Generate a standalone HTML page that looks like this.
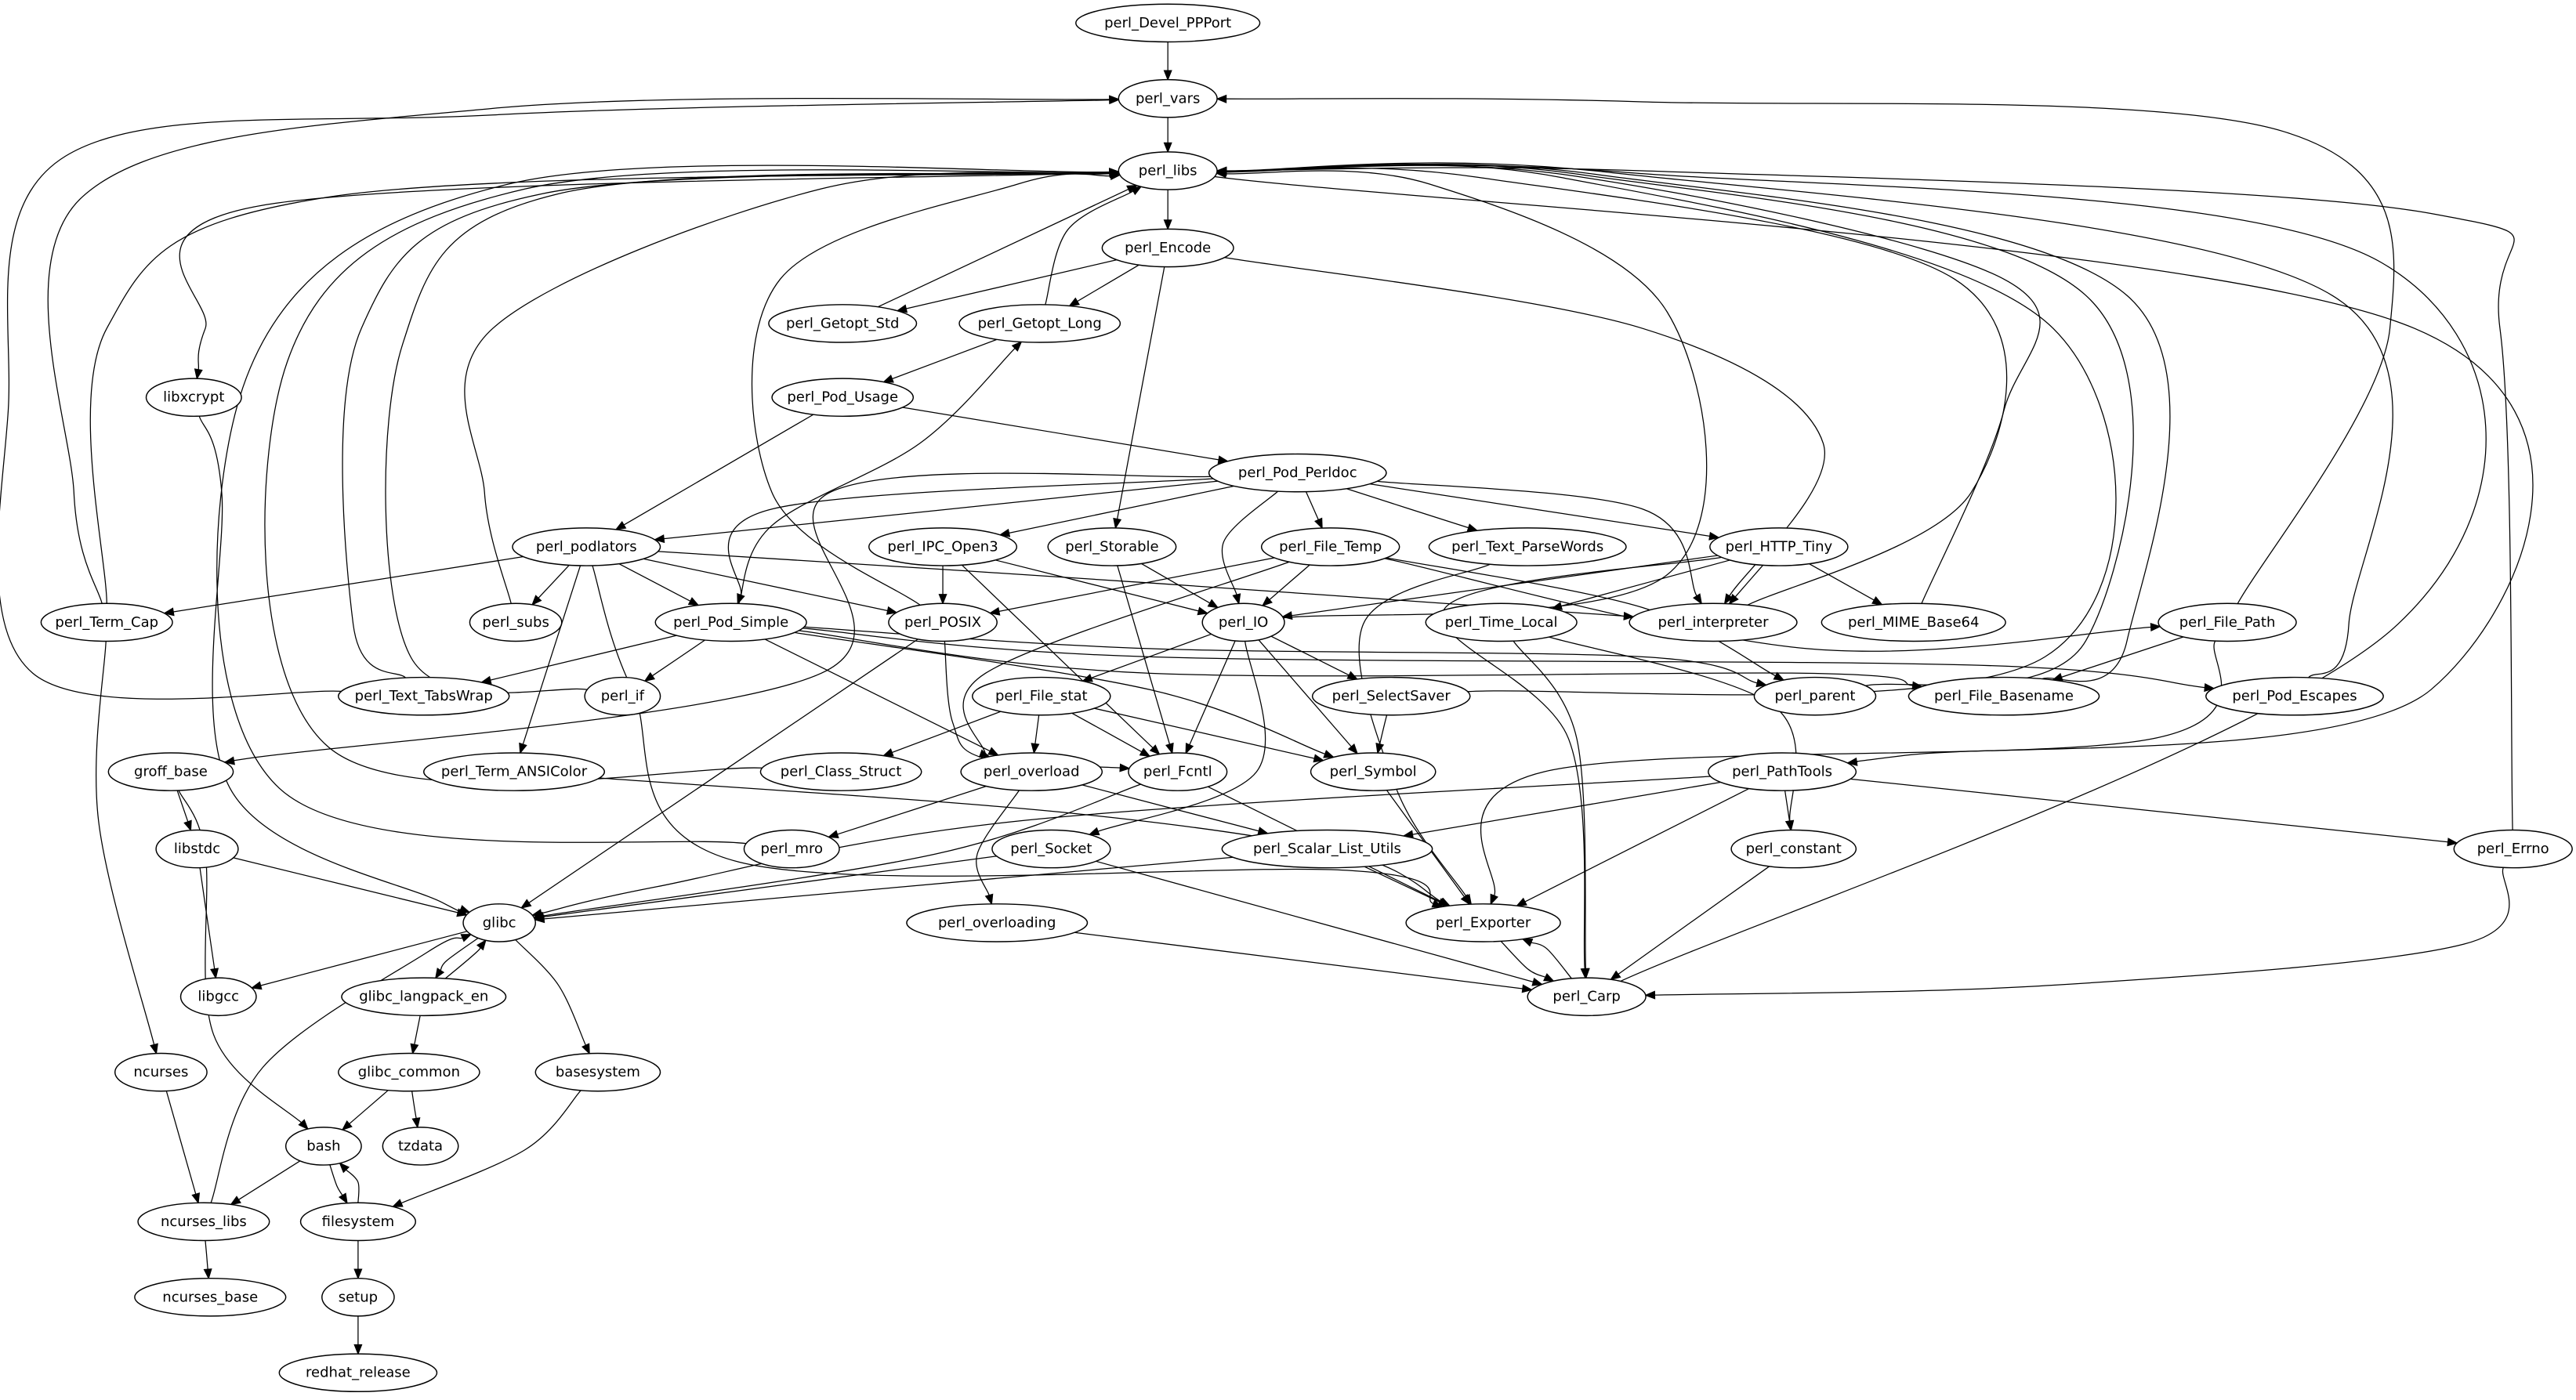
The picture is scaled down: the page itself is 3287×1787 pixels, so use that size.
<!DOCTYPE html>
<html><head><meta charset="utf-8"><style>
html,body{margin:0;padding:0;background:#fff;}
svg{display:block;}
text{font-family:"DejaVu Sans","Liberation Sans",sans-serif;font-size:8.6px;text-anchor:middle;dominant-baseline:central;fill:#000;}
ellipse{fill:#fff;stroke:#000;stroke-width:0.7;}
</style></head><body>
<svg id="g" width="3287" height="1787" viewBox="0 0 1568.3 852.6" xmlns="http://www.w3.org/2000/svg">
<g id="edges" fill="none" stroke="#000" stroke-width="0.6"></g>
<g id="nodes">
<ellipse cx="711" cy="14" rx="56" ry="11.5"/><text x="711" y="14">perl_Devel_PPPort</text>
<ellipse cx="711" cy="60" rx="30" ry="11.5"/><text x="711" y="60">perl_vars</text>
<ellipse cx="711" cy="104" rx="30" ry="11.5"/><text x="711" y="104">perl_libs</text>
<ellipse cx="711" cy="151" rx="40" ry="11.5"/><text x="711" y="151">perl_Encode</text>
<ellipse cx="513" cy="197" rx="45" ry="11.5"/><text x="513" y="197">perl_Getopt_Std</text>
<ellipse cx="633" cy="197" rx="49" ry="11.5"/><text x="633" y="197">perl_Getopt_Long</text>
<ellipse cx="118" cy="242" rx="29" ry="11.5"/><text x="118" y="242">libxcrypt</text>
<ellipse cx="513" cy="242" rx="43" ry="11.5"/><text x="513" y="242">perl_Pod_Usage</text>
<ellipse cx="790" cy="288" rx="54" ry="11.5"/><text x="790" y="288">perl_Pod_Perldoc</text>
<ellipse cx="357" cy="333" rx="45" ry="11.5"/><text x="357" y="333">perl_podlators</text>
<ellipse cx="574" cy="333" rx="45" ry="11.5"/><text x="574" y="333">perl_IPC_Open3</text>
<ellipse cx="677" cy="333" rx="39" ry="11.5"/><text x="677" y="333">perl_Storable</text>
<ellipse cx="810" cy="333" rx="42" ry="11.5"/><text x="810" y="333">perl_File_Temp</text>
<ellipse cx="930" cy="333" rx="60" ry="11.5"/><text x="930" y="333">perl_Text_ParseWords</text>
<ellipse cx="1083" cy="333" rx="42" ry="11.5"/><text x="1083" y="333">perl_HTTP_Tiny</text>
<ellipse cx="65" cy="379" rx="40" ry="11.5"/><text x="65" y="379">perl_Term_Cap</text>
<ellipse cx="314" cy="379" rx="28" ry="11.5"/><text x="314" y="379">perl_subs</text>
<ellipse cx="445" cy="379" rx="46" ry="11.5"/><text x="445" y="379">perl_Pod_Simple</text>
<ellipse cx="574" cy="379" rx="33" ry="11.5"/><text x="574" y="379">perl_POSIX</text>
<ellipse cx="757" cy="379" rx="25" ry="11.5"/><text x="757" y="379">perl_IO</text>
<ellipse cx="914" cy="379" rx="46" ry="11.5"/><text x="914" y="379">perl_Time_Local</text>
<ellipse cx="1043" cy="379" rx="51" ry="11.5"/><text x="1043" y="379">perl_interpreter</text>
<ellipse cx="1165" cy="379" rx="56" ry="11.5"/><text x="1165" y="379">perl_MIME_Base64</text>
<ellipse cx="1356" cy="379" rx="42" ry="11.5"/><text x="1356" y="379">perl_File_Path</text>
<ellipse cx="258" cy="424" rx="52" ry="11.5"/><text x="258" y="424">perl_Text_TabsWrap</text>
<ellipse cx="379" cy="424" rx="23" ry="11.5"/><text x="379" y="424">perl_if</text>
<ellipse cx="634" cy="424" rx="42" ry="11.5"/><text x="634" y="424">perl_File_stat</text>
<ellipse cx="847" cy="424" rx="48" ry="11.5"/><text x="847" y="424">perl_SelectSaver</text>
<ellipse cx="1105" cy="424" rx="37" ry="11.5"/><text x="1105" y="424">perl_parent</text>
<ellipse cx="1220" cy="424" rx="58" ry="11.5"/><text x="1220" y="424">perl_File_Basename</text>
<ellipse cx="1397" cy="424" rx="54" ry="11.5"/><text x="1397" y="424">perl_Pod_Escapes</text>
<ellipse cx="104" cy="470" rx="38" ry="11.5"/><text x="104" y="470">groff_base</text>
<ellipse cx="313" cy="470" rx="55" ry="11.5"/><text x="313" y="470">perl_Term_ANSIColor</text>
<ellipse cx="512" cy="470" rx="49" ry="11.5"/><text x="512" y="470">perl_Class_Struct</text>
<ellipse cx="628" cy="470" rx="43" ry="11.5"/><text x="628" y="470">perl_overload</text>
<ellipse cx="717" cy="470" rx="30" ry="11.5"/><text x="717" y="470">perl_Fcntl</text>
<ellipse cx="836" cy="470" rx="38" ry="11.5"/><text x="836" y="470">perl_Symbol</text>
<ellipse cx="1085" cy="470" rx="45" ry="11.5"/><text x="1085" y="470">perl_PathTools</text>
<ellipse cx="120" cy="517" rx="25" ry="11.5"/><text x="120" y="517">libstdc</text>
<ellipse cx="482" cy="517" rx="29" ry="11.5"/><text x="482" y="517">perl_mro</text>
<ellipse cx="640" cy="517" rx="36" ry="11.5"/><text x="640" y="517">perl_Socket</text>
<ellipse cx="808" cy="517" rx="64" ry="11.5"/><text x="808" y="517">perl_Scalar_List_Utils</text>
<ellipse cx="1092" cy="517" rx="38" ry="11.5"/><text x="1092" y="517">perl_constant</text>
<ellipse cx="1530" cy="517" rx="36" ry="11.5"/><text x="1530" y="517">perl_Errno</text>
<ellipse cx="304" cy="562" rx="22" ry="11.5"/><text x="304" y="562">glibc</text>
<ellipse cx="903" cy="562" rx="47" ry="11.5"/><text x="903" y="562">perl_Exporter</text>
<ellipse cx="607" cy="562" rx="55" ry="11.5"/><text x="607" y="562">perl_overloading</text>
<ellipse cx="133" cy="607" rx="23" ry="11.5"/><text x="133" y="607">libgcc</text>
<ellipse cx="258" cy="607" rx="50" ry="11.5"/><text x="258" y="607">glibc_langpack_en</text>
<ellipse cx="966" cy="607" rx="36" ry="11.5"/><text x="966" y="607">perl_Carp</text>
<ellipse cx="249" cy="653" rx="43" ry="11.5"/><text x="249" y="653">glibc_common</text>
<ellipse cx="364" cy="653" rx="38" ry="11.5"/><text x="364" y="653">basesystem</text>
<ellipse cx="98" cy="653" rx="28" ry="11.5"/><text x="98" y="653">ncurses</text>
<ellipse cx="197" cy="698" rx="23" ry="11.5"/><text x="197" y="698">bash</text>
<ellipse cx="256" cy="698" rx="23" ry="11.5"/><text x="256" y="698">tzdata</text>
<ellipse cx="124" cy="744" rx="40" ry="11.5"/><text x="124" y="744">ncurses_libs</text>
<ellipse cx="218" cy="744" rx="35" ry="11.5"/><text x="218" y="744">filesystem</text>
<ellipse cx="128" cy="790" rx="46" ry="11.5"/><text x="128" y="790">ncurses_base</text>
<ellipse cx="218" cy="790" rx="22" ry="11.5"/><text x="218" y="790">setup</text>
<ellipse cx="218" cy="836" rx="48" ry="11.5"/><text x="218" y="836">redhat_release</text>
</g>
</svg>
<script>
var N={};
document.querySelectorAll('#nodes ellipse').forEach(function(e){
  var t=e.nextElementSibling.textContent;
  N[t]={x:+e.getAttribute('cx'),y:+e.getAttribute('cy'),rx:+e.getAttribute('rx'),ry:+e.getAttribute('ry')};
});
function bd(n,px,py){var dx=px-n.x,dy=py-n.y;var k=1/Math.sqrt(dx*dx/(n.rx*n.rx)+dy*dy/(n.ry*n.ry));return [n.x+dx*k,n.y+dy*k];}
var E=[
['perl_Devel_PPPort','perl_vars'],['perl_vars','perl_libs'],
['perl_Term_Cap','perl_vars',[[45,300],[50,120],[300,66]]],
['perl_Text_TabsWrap','perl_vars',[[20,410],[5,250],[40,95],[300,70]]],
['perl_File_Path','perl_vars',[[1455,200],[1390,80],[1000,62]]],
['perl_libs','perl_Encode'],
['perl_libs','perl_libxcrypt'],
['perl_libs','libxcrypt',[[160,125],[125,200]]],
['perl_Term_Cap','perl_libs',[[65,200],[200,120]]],
['perl_Text_TabsWrap','perl_libs',[[215,380],[220,200],[330,118]]],
['perl_if','perl_libs',[[250,400],[245,210],[340,118]]],
['perl_Class_Struct','perl_libs',[[200,455],[175,220],[320,115]]],
['perl_mro','perl_libs',[[170,480],[150,230],[310,112]]],
['perl_subs','perl_libs',[[295,300],[300,200],[500,115]]],
['perl_POSIX','perl_libs',[[470,300],[475,170],[620,112]]],
['perl_Getopt_Std','perl_libs'],
['perl_Getopt_Long','perl_libs',[[650,140]]],
['perl_IO','perl_libs',[[1015,350],[1015,190],[870,112]]],
['perl_interpreter','perl_libs',[[1200,300],[1190,170],[900,108]]],
['perl_SelectSaver','perl_libs',[[1245,400],[1250,200],[950,108]]],
['perl_parent','perl_libs',[[1270,390],[1270,180],[960,106]]],
['perl_MIME_Base64','perl_libs',[[1220,250],[1220,170],[950,106]]],
['perl_File_Basename','perl_libs',[[1295,390],[1295,180],[970,106]]],
['perl_Pod_Escapes','perl_libs',[[1430,380],[1420,180],[980,105]]],
['perl_libs','perl_PathTools',[[1470,200],[1480,420],[1160,460]]],
['perl_Errno','perl_libs',[[1522,200],[1480,130],[1000,104]]],
['perl_Carp','perl_libs',[[1460,380],[1450,160],[990,105]]],
['perl_Encode','perl_Getopt_Std'],['perl_Encode','perl_Getopt_Long'],
['perl_Encode','perl_Storable'],
['perl_Encode','perl_interpreter',[[1000,200],[1110,270]]],
['perl_Getopt_Long','perl_Pod_Usage'],
['perl_Pod_Usage','perl_podlators'],['perl_Pod_Usage','perl_Pod_Perldoc'],
['perl_Pod_Perldoc','perl_podlators'],
['perl_Pod_Perldoc','perl_Pod_Simple',[[470,310]]],
['perl_Pod_Perldoc','groff_base',[[505,300],[500,410],[150,462]]],
['perl_Pod_Perldoc','perl_IPC_Open3'],['perl_Pod_Perldoc','perl_IO',[[745,330]]],
['perl_Pod_Perldoc','perl_File_Temp'],['perl_Pod_Perldoc','perl_Text_ParseWords'],
['perl_Pod_Perldoc','perl_HTTP_Tiny'],['perl_Pod_Perldoc','perl_interpreter',[[1000,310]]],
['perl_Pod_Simple','perl_Getopt_Long',[[470,320],[560,270]]],
['perl_podlators','perl_Term_Cap'],['perl_podlators','perl_subs'],['perl_podlators','perl_Pod_Simple'],
['perl_podlators','perl_POSIX'],['perl_podlators','perl_Term_ANSIColor'],
['perl_podlators','perl_interpreter',[[700,355]]],
['perl_podlators','perl_Exporter',[[385,420],[450,525],[820,530]]],
['perl_IPC_Open3','perl_POSIX'],['perl_IPC_Open3','perl_IO'],['perl_IPC_Open3','perl_Fcntl'],
['perl_Storable','perl_IO'],['perl_Storable','perl_Fcntl'],
['perl_File_Temp','perl_POSIX'],['perl_File_Temp','perl_IO'],
['perl_File_Temp','perl_overload',[[600,410],[600,460]]],
['perl_File_Temp','perl_parent',[[1000,370]]],
['perl_File_Temp','perl_File_Path',[[1100,395]]],
['perl_Text_ParseWords','perl_Exporter',[[830,380],[850,480]]],
['perl_HTTP_Tiny','perl_IO'],['perl_HTTP_Tiny','perl_Time_Local'],['perl_HTTP_Tiny','perl_MIME_Base64'],
['perl_HTTP_Tiny','perl_interpreter'],
['perl_HTTP_Tiny','perl_Carp',[[880,370],[955,450]]],
['perl_Term_Cap','ncurses',[[60,500]]],
['perl_Pod_Simple','perl_Text_TabsWrap'],['perl_Pod_Simple','perl_if'],['perl_Pod_Simple','perl_overload'],
['perl_Pod_Simple','perl_Symbol',[[700,420]]],
['perl_Pod_Simple','perl_File_Basename',[[700,410],[1100,410]]],
['perl_Pod_Simple','perl_Pod_Escapes',[[700,400],[1200,405]]],
['perl_Pod_Simple','perl_parent',[[700,395],[1000,400]]],
['perl_POSIX','glibc'],
['perl_POSIX','perl_Fcntl',[[580,440],[600,462]]],
['perl_IO','perl_File_stat'],['perl_IO','perl_SelectSaver'],['perl_IO','perl_Symbol'],['perl_IO','perl_Fcntl'],
['perl_IO','perl_Socket',[[765,470]]],
['perl_Time_Local','perl_Carp',[[960,450]]],
['perl_Time_Local','perl_constant',[[1080,430]]],
['perl_File_Path','perl_File_Basename'],
['perl_File_Path','perl_Exporter',[[1310,450],[940,470]]],
['perl_File_stat','perl_Class_Struct'],['perl_File_stat','perl_overload'],['perl_File_stat','perl_Fcntl'],['perl_File_stat','perl_Symbol'],
['perl_SelectSaver','perl_Symbol'],
['perl_Symbol','perl_Exporter'],['perl_Fcntl','perl_Exporter'],
['perl_Fcntl','glibc',[[570,520]]],
['perl_overload','perl_mro'],['perl_overload','perl_overloading',[[595,520]]],['perl_overload','perl_Scalar_List_Utils'],
['perl_Term_ANSIColor','perl_Exporter',[[650,495],[820,520]]],
['perl_PathTools','perl_Scalar_List_Utils'],['perl_PathTools','perl_constant'],['perl_PathTools','perl_Errno'],
['perl_PathTools','perl_Exporter'],['perl_PathTools','glibc',[[620,500],[400,540]]],
['perl_Socket','glibc'],['perl_Socket','perl_Carp'],
['perl_Scalar_List_Utils','perl_Exporter'],['perl_Scalar_List_Utils','glibc'],
['perl_constant','perl_Carp'],['perl_Errno','perl_Carp',[[1500,575],[1250,600]]],
['perl_Exporter','perl_Carp',[[930,590]]],['perl_Carp','perl_Exporter',[[942,578]]],
['perl_overloading','perl_Carp'],
['libxcrypt','glibc',[[135,300],[140,480],[270,550]]],
['groff_base','libstdc'],['groff_base','bash',[[125,520],[130,630],[185,685]]],
['libstdc','glibc'],['libstdc','libgcc'],
['glibc','libgcc'],['glibc','glibc_langpack_en',[[272,585]]],['glibc_langpack_en','glibc',[[290,580]]],
['glibc','basesystem',[[340,600]]],
['glibc_langpack_en','glibc_common'],['glibc_common','bash'],['glibc_common','tzdata'],
['basesystem','filesystem',[[320,700]]],
['ncurses','ncurses_libs'],['bash','ncurses_libs'],
['bash','filesystem',[[205,722]]],['filesystem','bash',[[218,720]]],
['ncurses_libs','glibc',[[160,650],[260,580]]],['ncurses_libs','ncurses_base'],
['filesystem','setup'],['setup','redhat_release']
];
var ns='http://www.w3.org/2000/svg',G=document.getElementById('edges');
E.forEach(function(e){
  var a=N[e[0]],b=N[e[1]];if(!a||!b)return;
  var w=e[2]||[];
  var f=w.length?w[0]:[b.x,b.y],l=w.length?w[w.length-1]:[a.x,a.y];
  var s=bd(a,f[0],f[1]),t0=bd(b,l[0],l[1]);
  var dx=l[0]-t0[0],dy=l[1]-t0[1],d=Math.hypot(dx,dy)||1;dx/=d;dy/=d;
  var L=5.5,t=[t0[0]+dx*L,t0[1]+dy*L];
  var P=[s].concat(w).concat([t]);
  var p='M'+P[0][0].toFixed(1)+','+P[0][1].toFixed(1);
  for(var i=0;i<P.length-1;i++){
    var p0=P[i-1]||P[i],p1=P[i],p2=P[i+1],p3=P[i+2]||p2;
    var c1=[p1[0]+(p2[0]-p0[0])/6,p1[1]+(p2[1]-p0[1])/6],c2=[p2[0]-(p3[0]-p1[0])/6,p2[1]-(p3[1]-p1[1])/6];
    p+=' C'+c1[0].toFixed(1)+','+c1[1].toFixed(1)+' '+c2[0].toFixed(1)+','+c2[1].toFixed(1)+' '+p2[0].toFixed(1)+','+p2[1].toFixed(1);
  }
  var pe=document.createElementNS(ns,'path');pe.setAttribute('d',p);G.appendChild(pe);
  var px=-dy,py=dx,h=2.2;
  var tri=document.createElementNS(ns,'polygon');
  tri.setAttribute('points',t0[0]+','+t0[1]+' '+(t[0]+px*h)+','+(t[1]+py*h)+' '+(t[0]-px*h)+','+(t[1]-py*h));
  tri.setAttribute('fill','#000');tri.setAttribute('stroke','#000');tri.setAttribute('stroke-width','0.6');
  G.appendChild(tri);
});
</script>
</body></html>
